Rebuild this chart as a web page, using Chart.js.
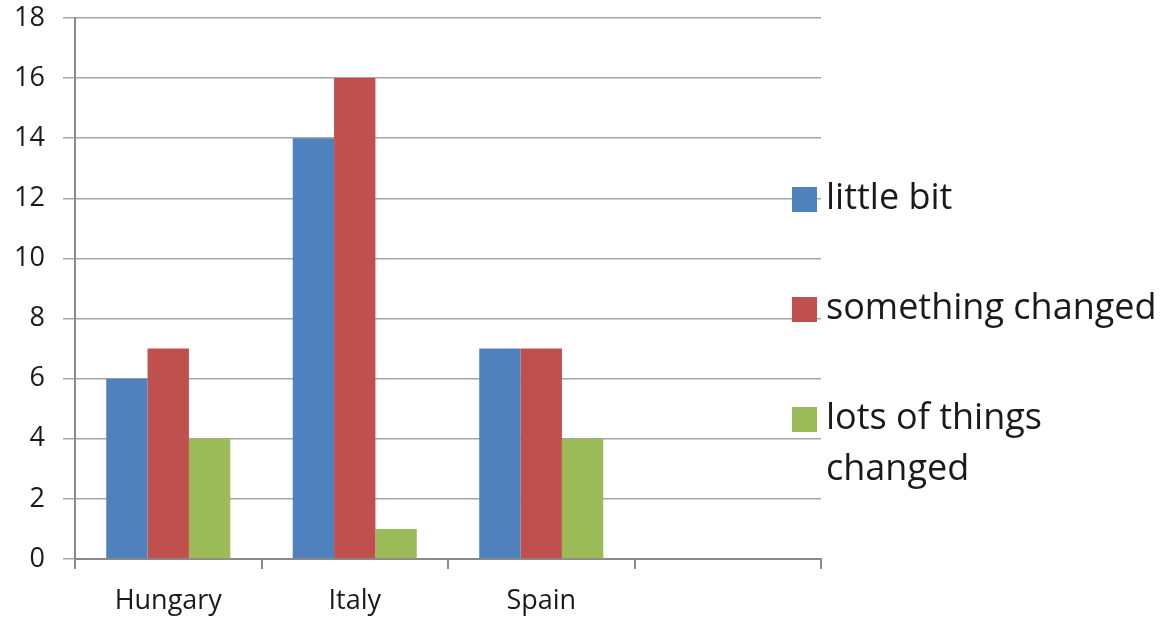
<!DOCTYPE html>
<html>
<head>
<meta charset="utf-8">
<script src="https://cdn.jsdelivr.net/npm/chart.js@4.4.1/dist/chart.umd.min.js"></script>
<style>
  html, body { margin: 0; padding: 0; background: #fff; }
  #wrap { width: 1171px; height: 618px; position: relative; }
</style>
</head>
<body>
<div id="wrap"><canvas id="chart-1" width="1171" height="618"></canvas></div>
<script>
const categories = ['Hungary', 'Italy', 'Spain', ''];
const littleBit = [6, 14, 7, null];
const somethingChanged = [7, 16, 7, null];
const lotsChanged = [4, 1, 4, null];
const seriesNames = ['little bit', 'something changed', ['lots of things', 'changed']];
const seriesColors = ['#4F81BD', '#C0504D', '#9BBB59'];

const FONT = "'Open Sans', 'DejaVu Sans', sans-serif";

// legend drawn on the right, Excel style with wrapped last label
const sideLegend = {
  id: 'sideLegend',
  afterDraw(chart) {
    const c = chart.ctx;
    const x = 792;
    const rows = [199, 309, 419];
    c.save();
    c.font = '36px ' + FONT;
    c.textBaseline = 'middle';
    chart.data.datasets.forEach((ds, i) => {
      c.fillStyle = ds.backgroundColor;
      c.fillRect(x, rows[i] - 12, 25, 25);
      c.fillStyle = '#1a1a1a';
      const lines = Array.isArray(ds.label) ? ds.label : [ds.label];
      lines.forEach((t, j) => c.fillText(t, x + 34, rows[i] + j * 51));
    });
    c.restore();
  }
};

const ctx_1 = document.getElementById('chart-1').getContext('2d');

new Chart(ctx_1, {
  type: 'bar',
  data: {
    labels: categories,
    datasets: [
      { label: seriesNames[0], data: littleBit, backgroundColor: seriesColors[0] },
      { label: seriesNames[1], data: somethingChanged, backgroundColor: seriesColors[1] },
      { label: seriesNames[2], data: lotsChanged, backgroundColor: seriesColors[2] }
    ]
  },
  options: {
    responsive: false,
    animation: false,
    layout: { padding: { top: 18, right: 350, left: 0, bottom: 0 } },
    datasets: {
      bar: { barPercentage: 1, categoryPercentage: 0.665, borderWidth: 0 }
    },
    plugins: {
      legend: { display: false },
      tooltip: { enabled: false }
    },
    scales: {
      x: {
        grid: { drawOnChartArea: false, color: '#8a8a8a', tickLength: 10, lineWidth: 2 },
        border: { color: '#8a8a8a', width: 2 },
        ticks: { color: '#1a1a1a', padding: 16, font: { family: FONT, size: 27 } },
        afterFit: (s) => { s.height = 59; s.paddingLeft = 0; s.paddingRight = 0; }
      },
      y: {
        min: 0,
        max: 18,
        grid: { color: '#a6a6a6', tickLength: 12, lineWidth: 1.5 },
        border: { color: '#8a8a8a', width: 2 },
        ticks: { stepSize: 2, color: '#1a1a1a', padding: 18, font: { family: FONT, size: 27 } },
        afterFit: (s) => { s.width = 75; s.paddingTop = 0; s.paddingBottom = 0; }
      }
    }
  },
  plugins: [sideLegend]
});
</script>
</body>
</html>
